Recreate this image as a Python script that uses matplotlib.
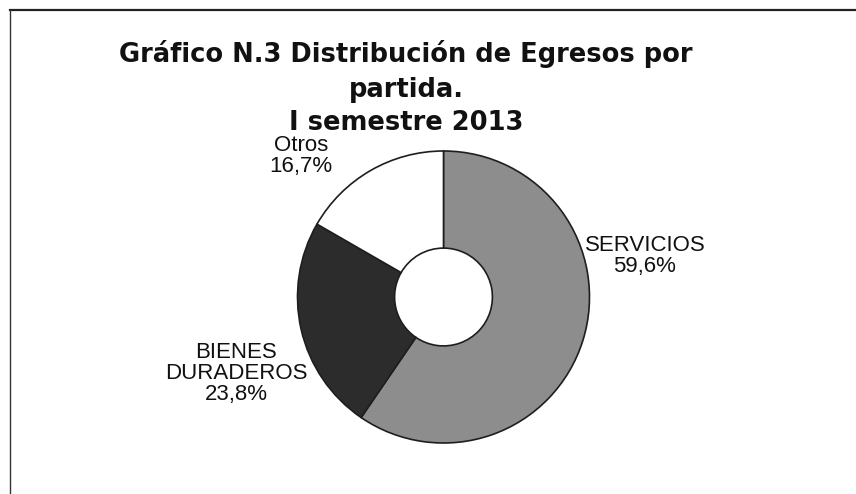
import matplotlib
matplotlib.use("Agg")
from matplotlib import pyplot as plt
from matplotlib.lines import Line2D

plt.rcParams['font.family'] = ['Liberation Sans', 'DejaVu Sans']

title_lines = ["Gráfico N.3 Distribución de Egresos por", "partida.", "I semestre 2013"]
categories = ["SERVICIOS", "BIENES\nDURADEROS", "Otros"]
shares = [59.6, 23.8, 16.7]
colors = ["#8d8d8d", "#2c2c2c", "#ffffff"]

W, H = 856, 494
fig = plt.figure(figsize=(W / 100, H / 100), dpi=100)
ax = fig.add_axes([0, 0, 1, 1])

# donut, pixel coords (y up)
cx, cy, r = 443.5, H - 297, 146
ax.pie(shares, colors=colors, startangle=90, counterclock=False,
       center=(cx, cy), radius=r,
       wedgeprops=dict(width=r * 0.665, edgecolor="#1e1e1e", linewidth=1.2))
ax.set_xlim(0, W)
ax.set_ylim(0, H)
ax.set_aspect("equal")
ax.axis("off")

# baseline of the last line of each label
label_pos = [(645, H - 272), (236, H - 400), (301, H - 172)]
for cat, v, (x, y) in zip(categories, shares, label_pos):
    txt = cat + "\n" + f"{v:.1f}".replace(".", ",") + "%"
    ax.text(x, y, txt, ha="center", va="baseline", fontsize=16,
            linespacing=1.0, color="#111111", multialignment="center")

title_base = [62, 97, 130]
for line, yb in zip(title_lines, title_base):
    ax.text(406, H - yb, line, ha="center", va="baseline", fontsize=18.5,
            fontweight="bold", family="DejaVu Sans", color="#111111")

# frame lines
fig.add_artist(Line2D([10 / W, 1], [1 - 10 / H, 1 - 10 / H], color="#222222", lw=1.6))
fig.add_artist(Line2D([10 / W, 10 / W], [0, 1 - 10 / H], color="#333333", lw=1.0))

fig.savefig("out.png", dpi=100)
